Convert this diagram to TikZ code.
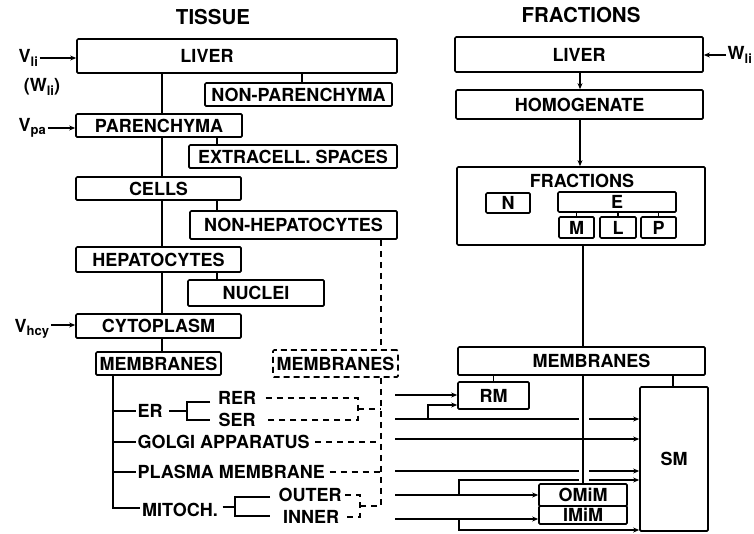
\documentclass[tikz,border=0pt]{standalone}
\usepackage{fontspec}
\setmainfont{TeX Gyre Heros}
\usetikzlibrary{arrows.meta}
\newcommand\lblfont{\fontsize{18}{20}\selectfont\bfseries}
\newcommand\ttlfont{\fontsize{20.5}{22}\selectfont\bfseries}
\newcommand\sbs[1]{\raisebox{-0.35ex}{\fontsize{13}{13}\selectfont #1}}
\begin{document}
\begin{tikzpicture}[x=1pt,y=-1pt,
  bx/.style={draw, line width=1.7pt, rounded corners=1.2pt, inner sep=0pt, font=\lblfont},
  dbx/.style={bx, dash pattern=on 6pt off 4pt},
  ln/.style={line width=1.6pt},
  dl/.style={line width=1.5pt, dash pattern=on 6pt off 5pt},
  arr/.style={ln, -{Stealth[length=6pt,width=5pt]}},
  tx/.style={inner sep=1.5pt, font=\lblfont},
  ttl/.style={inner sep=0pt, font=\ttlfont}]
\path[fill=white] (0,0) rectangle (754,533);
\useasboundingbox (0,0) rectangle (754,533);

% titles
\node[ttl] (tt1) at (213,17) {TISSUE};
\node[ttl] (tt2) at (581,15) {FRACTIONS};

% helper x positions
\coordinate (tk) at (162,0);
\coordinate (bn) at (302,0);
\coordinate (br) at (217,0);
\coordinate (dv) at (381,0);
\coordinate (tv) at (113,0);
\coordinate (rb) at (358,0);
\coordinate (ob) at (360,0);

% ---------- TISSUE column ----------
\node[bx, minimum width=320pt, minimum height=34pt,
      label={[font=\lblfont, xshift=-30pt]center:LIVER}] (livL) at (237,56) {};
\node[bx, minimum width=187pt, minimum height=23pt] (nonpar) at (298.5,94.5) {NON-PARENCHYMA};
\node[bx, minimum width=166pt, minimum height=23pt] (paren) at (159,125.5) {PARENCHYMA};
\node[bx, minimum width=208pt, minimum height=23pt] (extra) at (293,156.5) {EXTRACELL. SPACES};
\node[bx, minimum width=165pt, minimum height=23pt] (cells) at (158.5,188.5) {CELLS};
\node[bx, minimum width=207pt, minimum height=28pt] (nonhep) at (293.5,225) {NON-HEPATOCYTES};
\node[bx, minimum width=165pt, minimum height=25pt] (hepat) at (158.5,259.5) {HEPATOCYTES};
\node[bx, minimum width=136pt, minimum height=26pt] (nuclei) at (256,293) {NUCLEI};
\node[bx, minimum width=165pt, minimum height=24pt] (cyto) at (158.5,326) {CYTOPLASM};
\node[bx, minimum width=125pt, minimum height=23pt] (membL) at (158.5,363.5) {MEMBRANES};
\node[dbx, minimum width=125pt, minimum height=27pt] (membD) at (335.5,363.5) {MEMBRANES};

% inputs
\node[tx, anchor=west] (vli) at (17,58) {V\sbs{li}};
\node[tx] (wlil) at (42,87) {(W\sbs{li})};
\node[tx, anchor=west] (vpa) at (17,128) {V\sbs{pa}};
\node[tx, anchor=west] (vhcy) at (13,329) {V\sbs{hcy}};
\draw[arr] (vli.east) -- (vli.east -| livL.west);
\draw[arr] (vpa.east) -- (vpa.east -| paren.west);
\draw[arr] ([yshift=4pt]vhcy.east) -- ([yshift=4pt]vhcy.east -| cyto.west);

% trunk
\draw[ln] (livL.south -| tk) -- (paren.north -| tk);
\draw[ln] (paren.south -| tk) -- (cells.north -| tk);
\draw[ln] (cells.south -| tk) -- (hepat.north -| tk);
\draw[ln] (hepat.south -| tk) -- (cyto.north -| tk);
\draw[ln] (cyto.south -| tk) -- (membL.north -| tk);
% branches
\draw[ln] (livL.south -| bn) -- (nonpar.north -| bn);
\draw[ln] (paren.south -| br) -- (extra.north -| br);
\draw[ln] (cells.south -| br) -- (nonhep.north -| br);
\draw[ln] (hepat.south -| br) -- (nuclei.north -| br);

% membrane tree
\node[tx] (er) at (150,411) {ER};
\node[tx] (rer) at (237,398) {RER};
\node[tx] (ser) at (237,420) {SER};
\node[tx, anchor=west] (golgi) at (136,442) {GOLGI APPARATUS};
\node[tx, anchor=west] (plasma) at (136,472) {PLASMA MEMBRANE};
\node[tx] (mit) at (180,510) {MITOCH.};
\node[tx] (outer) at (310,495) {OUTER};
\node[tx] (inner) at (311,517) {INNER};

\draw[ln] (membL.south -| tv) -- (tv |- 0,508) -- (mit.west |- 0,508);
\draw[ln] (tv |- er.west) -- (er.west);
\draw[ln] (tv |- golgi.west) -- (golgi.west);
\draw[ln] (tv |- plasma.west) -- (plasma.west);
\coordinate (erb) at (187,411);
\draw[ln, shorten <=5pt] (er.east |- erb) -- (erb);
\draw[ln] (210,402) -- (187,402) -- (187,420) -- (210,420);
\coordinate (mtb) at (235,507);
\draw[ln, shorten <=3pt] (mit.east |- mtb) -- (mtb);
\draw[ln] (270,497) -- (235,497) -- (235,516) -- (270,516);

% dashed links
\coordinate (dvEnd) at (381,506);
\draw[dl] (nonhep.south -| dv) -- (membD.north -| dv);
\draw[dl] (membD.south -| dv) -- (dvEnd) -- (dvEnd -| ob);
\draw[dl, shorten <=8pt, shorten >=8pt] (rer.east) -- (rer.east -| rb) -- (ser.east -| rb) -- (ser.east);
\draw[dl] (rb |- 0,409) -- (dv |- 0,409);
\draw[dl, shorten <=4pt] (golgi.east) -- (golgi.east -| dv);
\draw[dl, shorten <=3pt] (plasma.east) -- (plasma.east -| dv);
\draw[dl, shorten <=2pt, shorten >=2pt] (outer.east) -- (outer.east -| ob) -- (inner.east -| ob) -- (inner.east);

% ---------- FRACTIONS column ----------
\coordinate (cx) at (580,0);
\coordinate (cm) at (583,0);
\coordinate (sx) at (673,0);
\coordinate (gL) at (579,0);
\coordinate (gR) at (589,0);

\node[bx, minimum width=248pt, minimum height=35pt] (livR) at (579,54.5) {LIVER};
\node[tx, anchor=west] (wli) at (726,55) {W\sbs{li}};
\draw[arr] (wli.west) -- (wli.west -| livR.east);
\node[bx, minimum width=247pt, minimum height=29pt] (homog) at (579.5,104.5) {HOMOGENATE};
\node[bx, minimum width=248pt, minimum height=78pt] (frac) at (581,206) {};
\node[tx] (fract) at (582,181) {FRACTIONS};
\node[bx, minimum width=44pt, minimum height=20pt] (N) at (508,203) {N};
\node[bx, minimum width=118pt, minimum height=20pt] (E) at (617,202) {E};
\node[bx, minimum width=35pt, minimum height=21pt] (M) at (576.5,227.5) {M};
\node[bx, minimum width=36pt, minimum height=21pt] (L) at (618,227.5) {L};
\node[bx, minimum width=35pt, minimum height=21pt] (P) at (658.5,227.5) {P};
\draw[arr] (livR.south -| cx) -- (homog.north -| cx);
\draw[arr] (homog.south -| cx) -- (frac.north -| cx);
\draw[ln] (E.south -| M.north) -- (M.north);
\draw[ln] (E.south -| L.north) -- (L.north);
\draw[ln] (E.south -| P.north) -- (P.north);

\node[bx, minimum width=247pt, minimum height=28pt,
      label={[font=\lblfont, xshift=10pt]center:MEMBRANES}] (membR) at (581.5,361) {};
\node[bx, minimum width=71pt, minimum height=27pt] (RM) at (493.5,395.5) {RM};
\node[bx, minimum width=68pt, minimum height=144pt] (SM) at (674,459) {SM};
\node[bx, minimum width=88pt, minimum height=22pt] (OMiM) at (583,495) {OMiM};
\node[bx, minimum width=88pt, minimum height=18pt] (IMiM) at (583,515) {IMiM};
\draw[ln] (frac.south -| cm) -- (membR.north -| cm);
\draw[ln] (membR.south -| RM.north) -- (RM.north);
\draw[ln] (membR.south -| sx) -- (SM.north -| sx);
\draw[ln] (membR.south -| cm) -- (OMiM.north -| cm);

% solid transfer lines
\coordinate (s1) at (395,395);
\coordinate (s2) at (395,419);
\coordinate (s3) at (395,439);
\coordinate (s4) at (395,471);
\coordinate (s5) at (395,495);
\coordinate (s6) at (395,519);
\coordinate (b1) at (428,405);
\coordinate (b5) at (459,480);
\coordinate (b6) at (459,530);
\draw[arr] (s1) -- (s1 -| RM.west);
\draw[ln] (s2) -- (s2 -| gL);
\draw[arr] (s2 -| gR) -- (s2 -| SM.west);
\draw[arr] (s2 -| b1) -- (b1) -- (b1 -| RM.west);
\draw[arr] (s3) -- (s3 -| SM.west);
\draw[ln] (s4) -- (s4 -| gL);
\draw[arr] (s4 -| gR) -- (s4 -| SM.west);
\draw[arr] (s5) -- (s5 -| OMiM.west);
\draw[ln] (s5 -| b5) -- (b5) -- (b5 -| gL);
\draw[arr] (b5 -| gR) -- (b5 -| SM.west);
\draw[arr] (s6) -- (s6 -| IMiM.west);
\draw[arr] (s6 -| b6) -- (b6) -- (b6 -| SM.west);
\end{tikzpicture}
\end{document}
